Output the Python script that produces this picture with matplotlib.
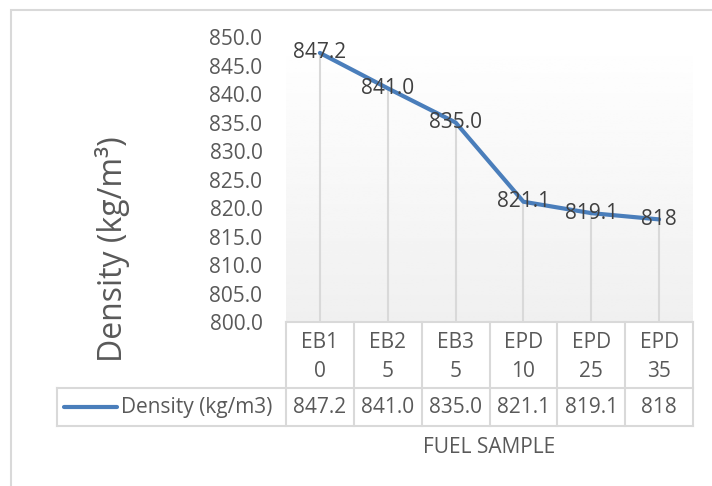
import numpy as np
import matplotlib
matplotlib.use('Agg')
import matplotlib.pyplot as plt
from matplotlib.lines import Line2D
from matplotlib.patches import Rectangle
from matplotlib.transforms import blended_transform_factory

plt.rcParams['font.family'] = ['Open Sans', 'DejaVu Sans']

samples = ['EB1\n0', 'EB2\n5', 'EB3\n5', 'EPD\n10', 'EPD\n25', 'EPD\n35']
density = [847.2, 841.0, 835.0, 821.1, 819.1, 818]
density_text = ['847.2', '841.0', '835.0', '821.1', '819.1', '818']
series_name = 'Density (kg/m3)'
yticks = [800, 805, 810, 815, 820, 825, 830, 835, 840, 845, 850]

W, H = 712, 486
blue = '#4a7ebb'
grid = '#d9d9d9'
txt = '#595959'
fs = 15

fig = plt.figure(figsize=(W / 100, H / 100), dpi=100)

def fx(px):
    return px / W

def fy(py):
    return 1 - py / H

# chart area outline
fig.add_artist(Rectangle((fx(11), fy(600)), 1.2, fy(10) - fy(600),
                         transform=fig.transFigure, fill=False,
                         edgecolor=grid, lw=1.5))

ax = fig.add_axes([fx(286), fy(322), fx(693) - fx(286), fy(37) - fy(322)])
x = np.arange(len(samples))
ax.set_xlim(-0.5, len(samples) - 0.5)
ax.set_ylim(800, 850)

# soft gradient plot background
grad = np.linspace(0.94, 1.0, 100).reshape(-1, 1)
ax.imshow(grad, cmap='gray', vmin=0, vmax=1, aspect='auto', origin='lower',
          extent=(-0.5, len(samples) - 0.5, 800, 850), zorder=0)

ax.vlines(x, 800, density, color=grid, lw=1.5, zorder=1)
ax.plot(x, density, color=blue, lw=3, solid_capstyle='round', zorder=2)
for xi, yi, t in zip(x, density, density_text):
    ax.text(xi, yi, t, ha='center', va='center', fontsize=fs, color='#404040', zorder=3)

ax.set_yticks(yticks)
ax.set_yticklabels([f'{v:.1f}' for v in yticks])
ax.tick_params(axis='y', length=0, pad=17, labelsize=fs, labelcolor=txt)
ax.set_xticks([])
for s in ax.spines.values():
    s.set_visible(False)

# data table under the plot
tr = blended_transform_factory(ax.transData, fig.transFigure)
top, mid, bot = fy(322), fy(388), fy(426)
left_px = 57
xl = -0.5 - (286 - left_px) / ((693 - 286) / len(samples))
lk = dict(color=grid, lw=1.5, transform=tr, clip_on=False)
fig.add_artist(Line2D([-0.5, len(samples) - 0.5], [top, top], **lk))
fig.add_artist(Line2D([xl, len(samples) - 0.5], [mid, mid], **lk))
fig.add_artist(Line2D([xl, len(samples) - 0.5], [bot, bot], **lk))
fig.add_artist(Line2D([xl, xl], [mid, bot], **lk))
for b in np.arange(len(samples) + 1) - 0.5:
    fig.add_artist(Line2D([b, b], [top, bot], **lk))

for xi, lab, t in zip(x, samples, density_text):
    fig.text(xi, (top + mid) / 2 - 0.005, lab, transform=tr, ha='center', va='center',
             fontsize=fs, color=txt, linespacing=1.5)
    fig.text(xi, (mid + bot) / 2, t, transform=tr, ha='center', va='center',
             fontsize=fs, color=txt)

fig.add_artist(Line2D([fx(64), fx(117)], [fy(407), fy(407)], color=blue, lw=3,
                      solid_capstyle='round', transform=fig.transFigure))
fig.text(fx(121), (mid + bot) / 2, series_name, ha='left', va='center',
         fontsize=fs, color=txt)

fig.text(fx(489), fy(447), 'FUEL SAMPLE', ha='center', va='center',
         fontsize=fs, color=txt)
fig.text(fx(112), fy(249), 'Density (kg/m³)', ha='center', va='center',
         rotation=90, fontsize=23, color=txt)

fig.savefig('out.png', dpi=100)
